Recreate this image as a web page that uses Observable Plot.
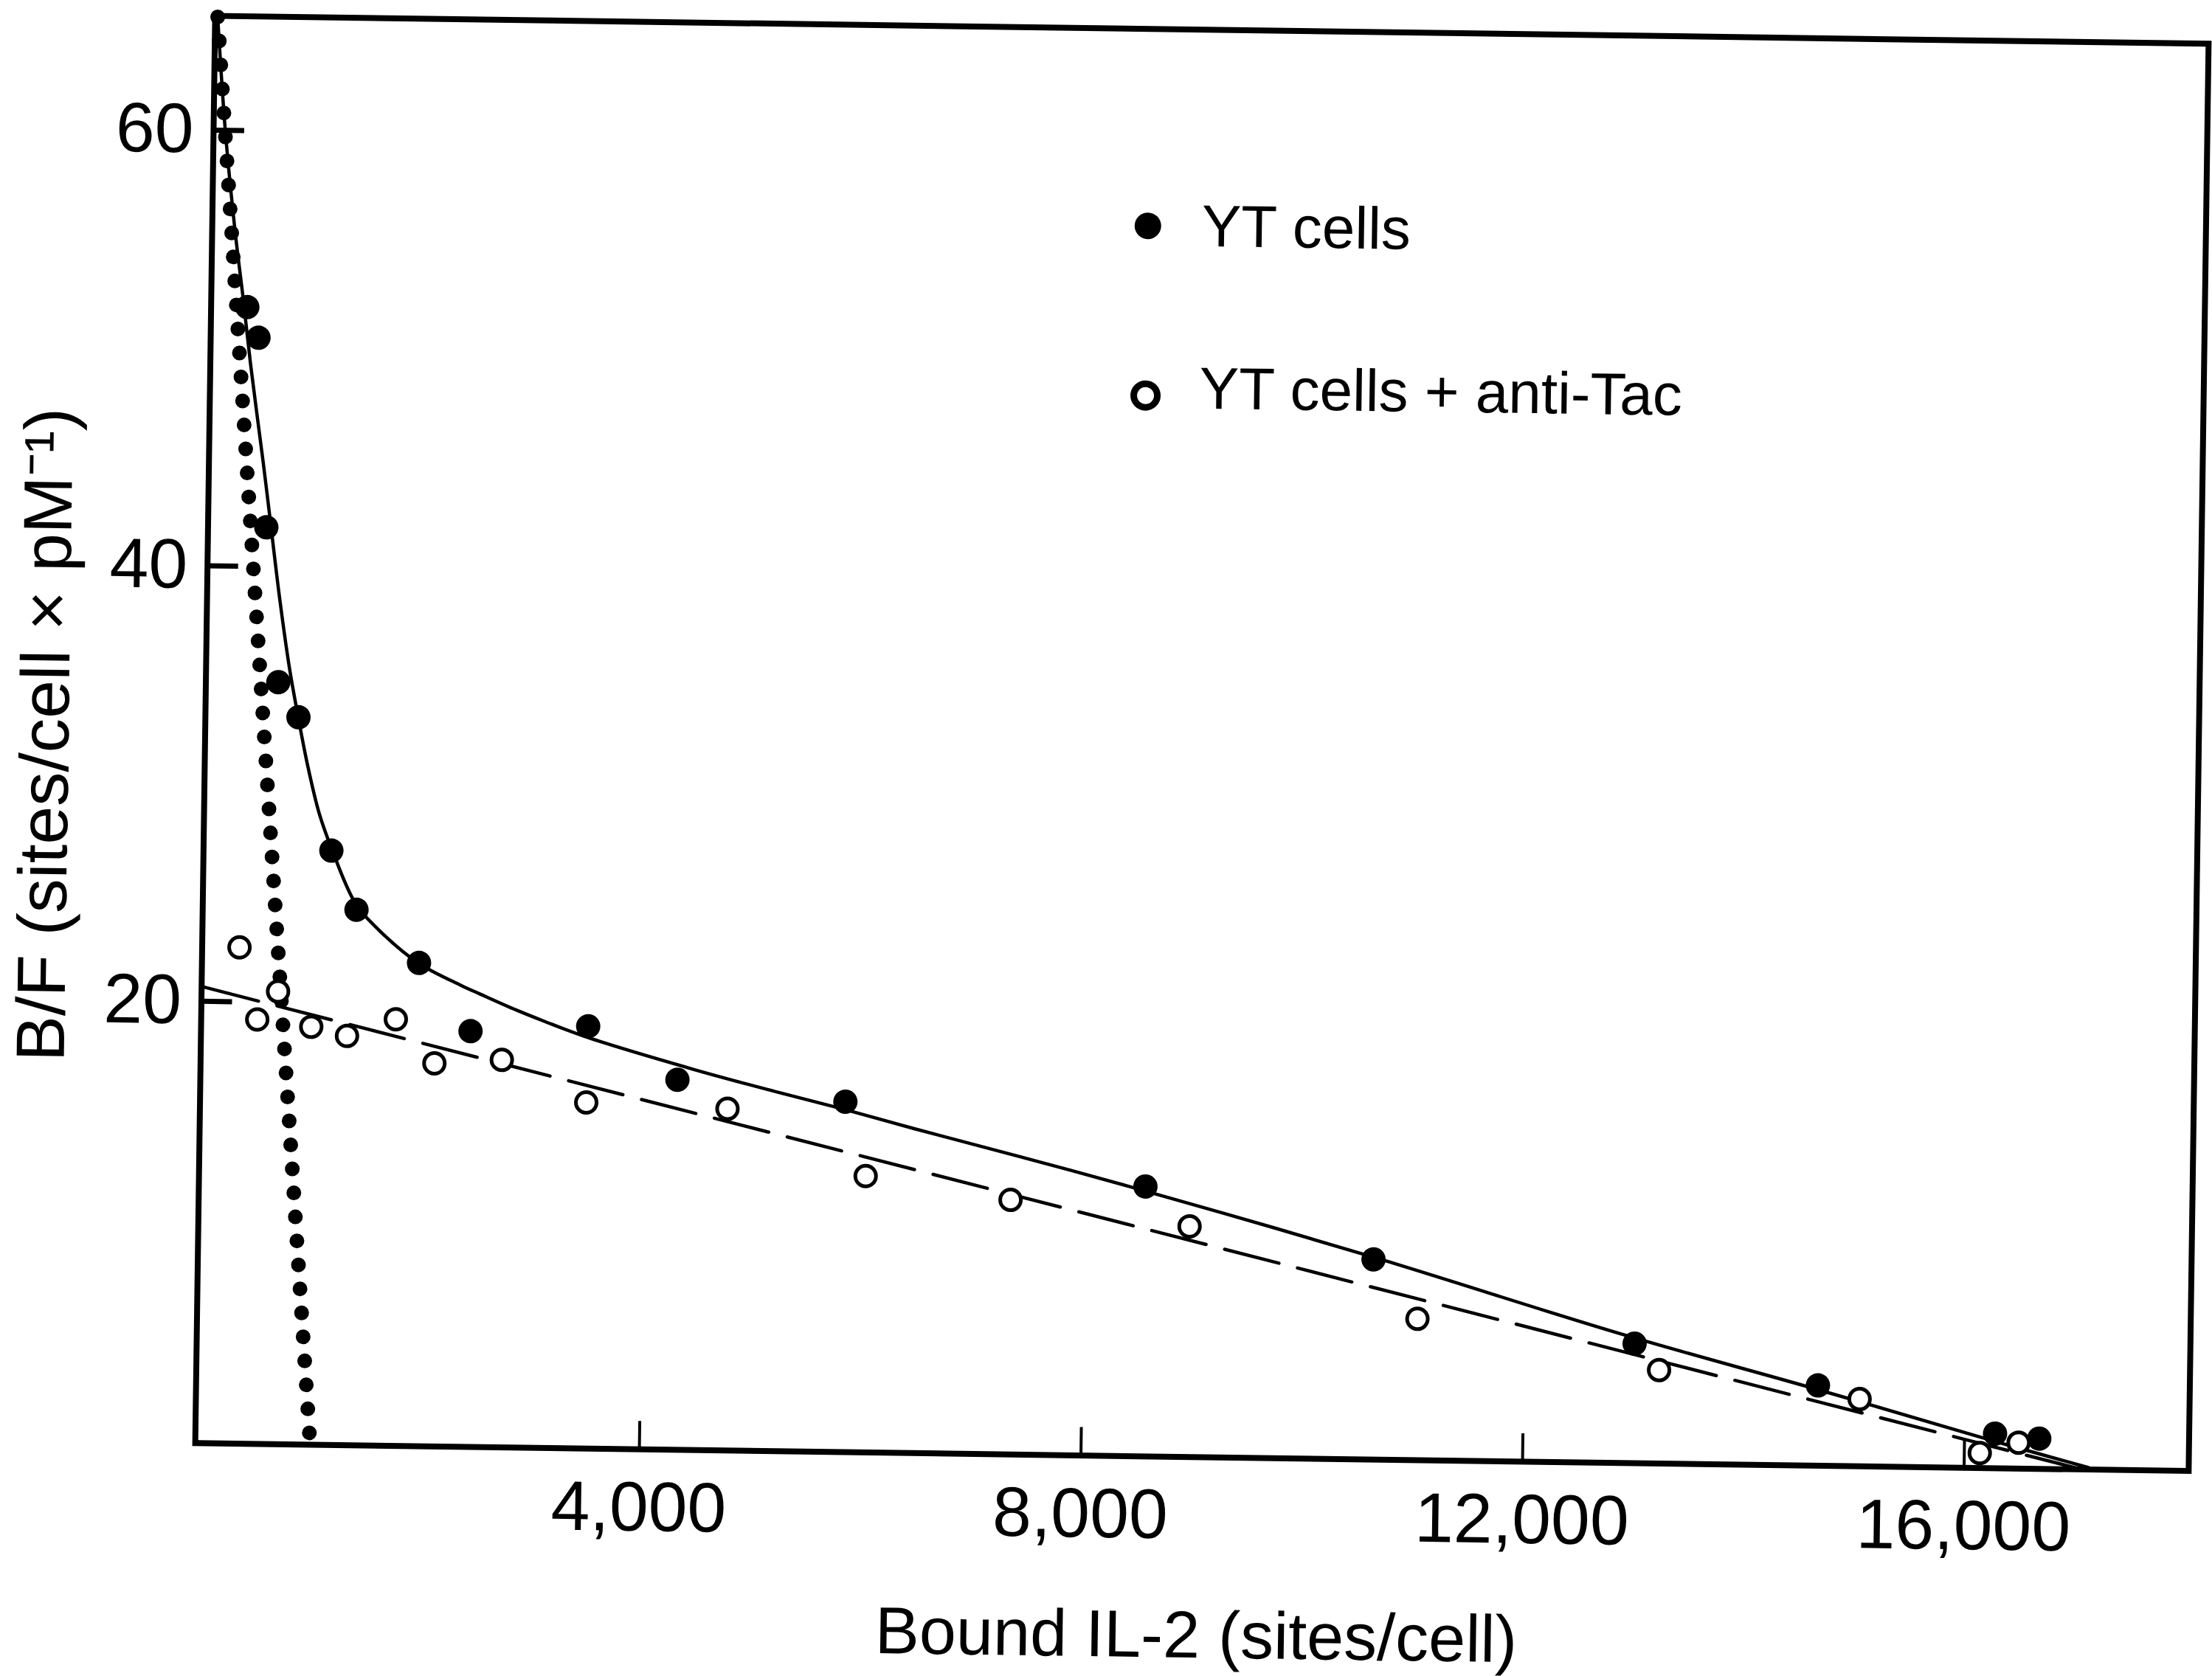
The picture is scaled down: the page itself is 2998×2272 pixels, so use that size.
<!DOCTYPE html>
<html>
<head>
<meta charset="utf-8">
<script src="https://cdn.jsdelivr.net/npm/d3@7"></script>
<script src="https://cdn.jsdelivr.net/npm/@observablehq/plot@0.6"></script>
<style>
  html, body { margin: 0; padding: 0; background: #fff; overflow: hidden; width: 2998px; height: 2272px; }
  #chart svg { display: block; transform: rotate(0.8deg); transform-origin: 1628.5px 1007.25px; }
</style>
</head>
<body>
<div id="chart"></div>
<script>
// ---- data ----
const yTicks = [20, 40, 60];
const xTicks = [4000, 8000, 12000, 16000];

// YT cells (filled circles)
const ytX = [305, 410, 505, 633, 820, 1135, 1370, 1943, 2418, 3483, 4298, 5822, 8550, 10625, 13000, 14666, 16276, 16677];
const ytY = [51.9, 50.5, 41.8, 34.7, 33.1, 27.0, 24.3, 21.9, 18.8, 19.1, 16.7, 15.8, 12.1, 8.9, 5.2, 3.4, 1.3, 1.1];

// YT cells + anti-Tac (open circles)
const tacX = [315, 485, 670, 975, 1300, 1740, 2095, 2705, 3475, 4755, 6015, 7330, 8955, 11030, 13225, 15045, 16140, 16490];
const tacY = [22.5, 19.2, 20.5, 18.9, 18.5, 19.3, 17.3, 17.5, 15.6, 15.4, 12.4, 11.4, 10.3, 6.2, 4.0, 2.8, 0.4, 0.9];

// fitted curve through YT cells (solid)
const fitX = [0, 85, 184, 266, 341, 468, 535, 636, 734, 814, 909, 1020, 1144, 1359, 1572, 1935, 2325, 2505, 2829, 3085, 3471, 4434, 5203, 5850, 6454, 7869, 9277, 10695, 12901, 14671, 16308, 17127];
const fitY = [65.2, 59.9, 55.4, 52.3, 49.3, 44.8, 42.3, 38.5, 35.3, 33.2, 30.9, 28.7, 27.0, 24.6, 23.4, 21.9, 20.9, 20.5, 19.8, 19.3, 18.6, 17.2, 16.2, 15.4, 14.6, 12.8, 10.9, 8.9, 5.6, 3.2, 0.9, -0.2];

// fitted line, anti-Tac (dashed)
const tacFitX = [0, 17050];
const tacFitY = [20.65, -0.27];

// high-affinity component (dotted)
const hiX = [0, 1010];
const hiY = [65.2, 0.2];

const legendLabels = ["YT cells", "YT cells + anti-Tac"];
const xLabel = "Bound IL-2 (sites/cell)";
const yLabel = "B/F (sites/cell \u00d7 pM\u207b\u00b9)";

// ---- build ----
const W = 2998, H = 2272;
const mL = 277.5, mR = 18.5, mT = 39.75, mB = 297.25;
const fW = W - mL - mR, fH = H - mT - mB;

const pts = (xs, ys) => xs.map((x, i) => ({x, y: ys[i]}));
const yt = pts(ytX, ytY), tac = pts(tacX, tacY), fit = pts(fitX, fitY),
      tacFit = pts(tacFitX, tacFitY), hi = pts(hiX, hiY);

const font = "'Liberation Sans', Arial, Helvetica, sans-serif";

const chart = Plot.plot({
  width: W, height: H,
  marginLeft: mL, marginRight: mR, marginTop: mT, marginBottom: mB,
  style: {fontFamily: font, background: "#fff", color: "#000", overflow: "visible"},
  x: {domain: [-23, 18034]},
  y: {domain: [-0.29, 65.25]},
  marks: [
    Plot.axisY({ticks: yTicks, tickSize: 0, tickPadding: 27, fontSize: 95, label: null}),
    Plot.axisX({ticks: xTicks, tickFormat: d3.format(","), tickSize: 0, tickPadding: 43, fontSize: 95, label: null}),
    Plot.ruleY(yTicks, {y: d => d, insetRight: fW - 42, stroke: "#000", strokeWidth: 7}),
    Plot.ruleX(xTicks, {x: d => d, insetTop: fH - 38, stroke: "#000", strokeWidth: 4}),
    Plot.line(hi, {x: "x", y: "y", stroke: "#000", strokeWidth: 20, strokeDasharray: "0 32.6", strokeLinecap: "round"}),
    Plot.line(fit, {x: "x", y: "y", curve: "catmull-rom", stroke: "#000", strokeWidth: 4.5}),
    Plot.line(tacFit, {x: "x", y: "y", stroke: "#000", strokeWidth: 4.5, strokeDasharray: "76 26"}),
    Plot.dot(tac, {x: "x", y: "y", r: 14, stroke: "#000", strokeWidth: 5, fill: "#fff"}),
    Plot.dot(yt, {x: "x", y: "y", r: 16.5, fill: "#000", stroke: "none"}),
    Plot.frame({stroke: "#000", strokeWidth: 8}),
    // legend
    Plot.dot([legendLabels[0]], {frameAnchor: "top-left", dx: 1268, dy: 267, r: 18, fill: "#000", stroke: "none"}),
    Plot.dot([legendLabels[1]], {frameAnchor: "top-left", dx: 1268, dy: 497, r: 16, fill: "#fff", stroke: "#000", strokeWidth: 9}),
    Plot.text([legendLabels[0]], {text: d => d, frameAnchor: "top-left", dx: 1341, dy: 268, textAnchor: "start", lineAnchor: "middle", fontSize: 80}),
    Plot.text([legendLabels[1]], {text: d => d, frameAnchor: "top-left", dx: 1341, dy: 488, textAnchor: "start", lineAnchor: "middle", fontSize: 80}),
    // axis titles
    Plot.text([xLabel], {text: d => d, frameAnchor: "bottom", dx: 9, dy: 243, textAnchor: "middle", lineAnchor: "middle", fontSize: 90}),
    Plot.text([yLabel], {text: d => d, frameAnchor: "left", dx: -215, dy: 10, rotate: -90, textAnchor: "middle", lineAnchor: "middle", fontSize: 93})
  ]
});

document.getElementById("chart").appendChild(chart);
</script>
</body>
</html>
